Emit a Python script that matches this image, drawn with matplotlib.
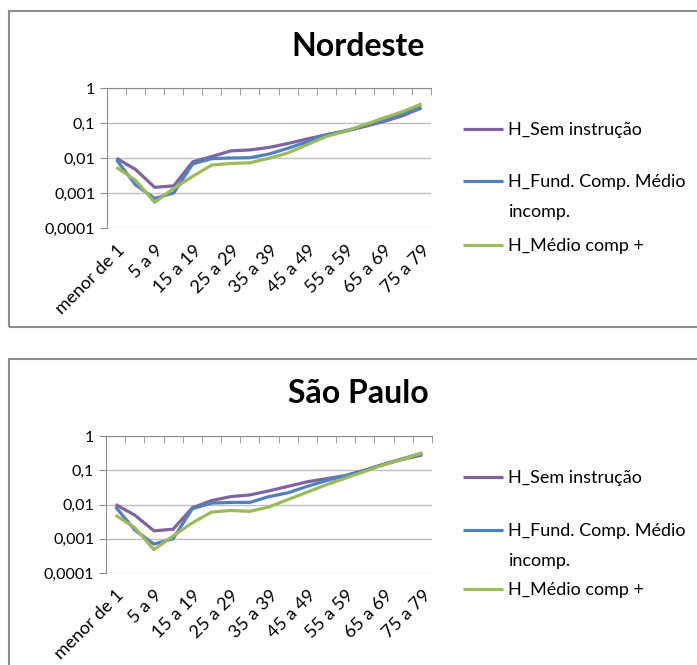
import numpy as np
import matplotlib.pyplot as plt
from matplotlib.patches import Rectangle
from matplotlib.ticker import FixedLocator, FuncFormatter, NullLocator

plt.rcParams['font.family'] = ['Lato', 'DejaVu Sans']

faixas = ['menor de 1', '1 a 4', '5 a 9', '10 a 14', '15 a 19', '20 a 24',
          '25 a 29', '30 a 34', '35 a 39', '40 a 44', '45 a 49', '50 a 54',
          '55 a 59', '60 a 64', '65 a 69', '70 a 74', '75 a 79']

series_labels = ['H_Sem instrução', 'H_Fund. Comp. Médio\nincomp.', 'H_Médio comp +']
cores = ['#8064A2', '#4F81BD', '#9BBB59']

# Nordeste
ne_sem = [0.0098, 0.0047, 0.00145, 0.0016, 0.0078, 0.011, 0.016, 0.017, 0.020,
          0.026, 0.035, 0.046, 0.058, 0.079, 0.11, 0.16, 0.27]
ne_fund = [0.0088, 0.0017, 0.0007, 0.001, 0.0068, 0.0096, 0.010, 0.0102, 0.013,
           0.019, 0.029, 0.046, 0.060, 0.083, 0.12, 0.18, 0.28]
ne_medio = [0.0054, 0.0023, 0.00054, 0.00135, 0.003, 0.0063, 0.007, 0.0073, 0.0098,
            0.014, 0.024, 0.041, 0.058, 0.089, 0.138, 0.21, 0.35]

# Sao Paulo
sp_sem = [0.010, 0.0049, 0.0017, 0.0019, 0.008, 0.013, 0.017, 0.019, 0.025,
          0.034, 0.046, 0.057, 0.070, 0.10, 0.15, 0.21, 0.28]
sp_fund = [0.0085, 0.0018, 0.0007, 0.001, 0.0075, 0.011, 0.0115, 0.0115, 0.017,
           0.022, 0.034, 0.050, 0.070, 0.10, 0.15, 0.22, 0.32]
sp_medio = [0.0049, 0.0021, 0.00048, 0.0012, 0.0029, 0.006, 0.0067, 0.0063, 0.0085,
            0.014, 0.023, 0.038, 0.059, 0.093, 0.145, 0.21, 0.32]

W, H = 697, 665
fig = plt.figure(figsize=(W / 100, H / 100), dpi=100)

# chart borders
fig.patches.append(Rectangle((9 / W, 1 - 327 / H), 1.0, (327 - 11) / H,
                             transform=fig.transFigure, fill=False,
                             edgecolor='#8c8c8c', linewidth=1.5))
fig.patches.append(Rectangle((9 / W, -0.2), 1.0, 0.2 + 1 - 359 / H,
                             transform=fig.transFigure, fill=False,
                             edgecolor='#8c8c8c', linewidth=1.5))


def fmt(v, pos):
    s = ('%.4f' % v).rstrip('0').rstrip('.')
    return s.replace('.', ',')


def chart(rect, titulo, ty, dados, legy):
    ax = fig.add_axes(rect)
    x = np.arange(len(faixas))
    hs = []
    for d, c in zip(dados, cores):
        h, = ax.plot(x, d, color=c, linewidth=2.3, solid_capstyle='butt')
        hs.append(h)
    ax.set_yscale('log')
    ax.set_ylim(1e-4, 1)
    ax.set_xlim(-0.5, len(faixas) - 0.5)
    ax.yaxis.set_major_locator(FixedLocator([1e-4, 1e-3, 1e-2, 1e-1, 1]))
    ax.yaxis.set_minor_locator(NullLocator())
    ax.yaxis.set_major_formatter(FuncFormatter(fmt))
    ax.grid(axis='y', color='#bfbfbf', linewidth=1)
    ax.set_axisbelow(True)
    ax.set_xticks(x[::2])
    ax.set_xticklabels(faixas[::2], rotation=45, ha='right',
                       rotation_mode='anchor')
    ax.xaxis.set_minor_locator(FixedLocator(np.arange(len(faixas) + 1) - 0.5))
    ax.tick_params(axis='x', which='major', length=0, labelsize=13, pad=10)
    ax.tick_params(axis='x', which='minor', top=True, bottom=False,
                   direction='in', length=5, color='#8c8c8c')
    ax.tick_params(axis='y', length=5, color='#8c8c8c', labelsize=11.5)
    for s in ['right', 'bottom']:
        ax.spines[s].set_visible(False)
    for s in ['left', 'top']:
        ax.spines[s].set_color('#8c8c8c')
    fig.text(358 / W, 1 - ty / H, titulo, ha='center', va='center',
             fontsize=23, fontweight='bold')
    # legend entries, the wrapped label continues below its first line
    for h, lab, yy in zip(hs, series_labels, legy):
        linhas = lab.split('\n')
        fig.legend([h], [linhas[0]], loc='center left',
                   bbox_to_anchor=(463 / W, 1 - yy / H), frameon=False,
                   fontsize=13, handlelength=2.2, handletextpad=0.3,
                   borderpad=0, borderaxespad=0)
        for k, resto in enumerate(linhas[1:], start=1):
            fig.text(509 / W, 1 - (yy + 30 * k) / H, resto, ha='left',
                     va='center', fontsize=13)
    return ax


chart([107 / W, 1 - 228 / H, 324 / W, 140 / H], 'Nordeste', 46,
      [ne_sem, ne_fund, ne_medio], [130, 182, 246])
chart([106 / W, 1 - 573 / H, 326 / W, 137 / H], 'São Paulo', 393,
      [sp_sem, sp_fund, sp_medio], [478, 531, 590])

plt.savefig('out.png', dpi=100)
